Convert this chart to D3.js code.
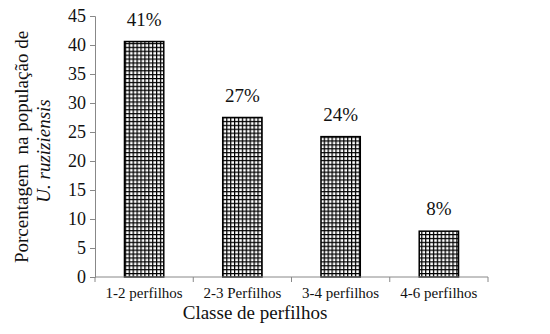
<!DOCTYPE html>
<html><head><meta charset="utf-8">
<script src="https://cdn.jsdelivr.net/npm/d3@7"></script>
<style>body{margin:0;background:#fff}svg{display:block}svg text{font-family:'Liberation Serif','Times New Roman',serif}</style>
</head><body>
<script>
const categories = ["1-2 perfilhos","2-3 Perfilhos","3-4 perfilhos","4-6 perfilhos"];
const values = [40.6, 27.5, 24.2, 7.9];
const labels = ["41%","27%","24%","8%"];
const yTicks = [0,5,10,15,20,25,30,35,40,45];

const W=550,H=334;
const m={left:95,right:62,top:16,bottom:57};
const FF="'Liberation Serif','Times New Roman',serif";
const svg=d3.select("body").append("svg").attr("width",W).attr("height",H);
const defs=svg.append("defs");
const pat=defs.append("pattern").attr("id","grid").attr("patternUnits","userSpaceOnUse")
  .attr("width",3.9).attr("height",3.9).attr("x",0).attr("y",0);
pat.append("rect").attr("width",3.9).attr("height",3.9).attr("fill","#fff");
pat.append("path").attr("d","M0,0.6H3.9M0.6,0V3.9").attr("stroke","#000").attr("stroke-width",1.3);

const x=d3.scaleBand().domain(categories).range([m.left,W-m.right]).paddingInner(0.6).paddingOuter(0.3);
const y=d3.scaleLinear().domain([0,45]).range([H-m.bottom,m.top]);

// y axis
const ya=svg.append("g").attr("transform",`translate(${m.left},0)`)
  .call(d3.axisLeft(y).tickValues(yTicks).tickSize(5).tickPadding(4));
ya.attr("font-family",FF);
ya.selectAll("path,line").attr("stroke","#888");
ya.selectAll("text").attr("font-family",FF).attr("font-size",18).attr("fill","#111");

// bars
svg.selectAll("rect.bar").data(values).enter().append("rect").attr("class","bar")
  .attr("x",(d,i)=>x(categories[i])).attr("width",x.bandwidth())
  .attr("y",d=>y(d)).attr("height",d=>y(0)-y(d))
  .attr("fill","url(#grid)").attr("stroke","#000").attr("stroke-width",1.5);

// x axis
const xa=svg.append("g").attr("transform",`translate(0,${y(0)})`);
xa.append("line").attr("x1",m.left).attr("x2",W-m.right).attr("stroke","#888");
const bounds=d3.range(categories.length+1).map(i=>m.left+i*(W-m.left-m.right)/categories.length);
xa.selectAll("line.t").data(bounds).enter().append("line").attr("class","t")
  .attr("x1",d=>d).attr("x2",d=>d).attr("y1",0).attr("y2",5).attr("stroke","#888");
xa.selectAll("text").data(categories).enter().append("text")
  .attr("x",d=>x(d)+x.bandwidth()/2).attr("y",21).attr("text-anchor","middle")
  .attr("font-family",FF).attr("font-size",15).attr("fill","#111").text(d=>d);

// value labels
svg.selectAll("text.val").data(values).enter().append("text").attr("class","val")
  .attr("x",(d,i)=>x(categories[i])+x.bandwidth()/2).attr("y",d=>y(d)-16)
  .attr("text-anchor","middle").attr("font-family",FF).attr("font-size",19)
  .attr("fill","#111").text((d,i)=>labels[i]);

// titles
svg.append("text").attr("x",255).attr("y",319).attr("text-anchor","middle")
  .attr("font-family",FF).attr("font-size",19).attr("fill","#111").text("Classe de perfilhos");
const yt=svg.append("text").attr("transform","translate(28,147) rotate(-90)")
  .attr("text-anchor","middle").attr("font-family",FF).attr("font-size",19).attr("fill","#111");
yt.append("tspan").attr("x",0).attr("dy",0).attr("xml:space","preserve").text("Porcentagem\u00a0 na população de");
yt.append("tspan").attr("x",-4).attr("dy",22).attr("font-style","italic").text("U. ruziziensis");
</script>
</body></html>
